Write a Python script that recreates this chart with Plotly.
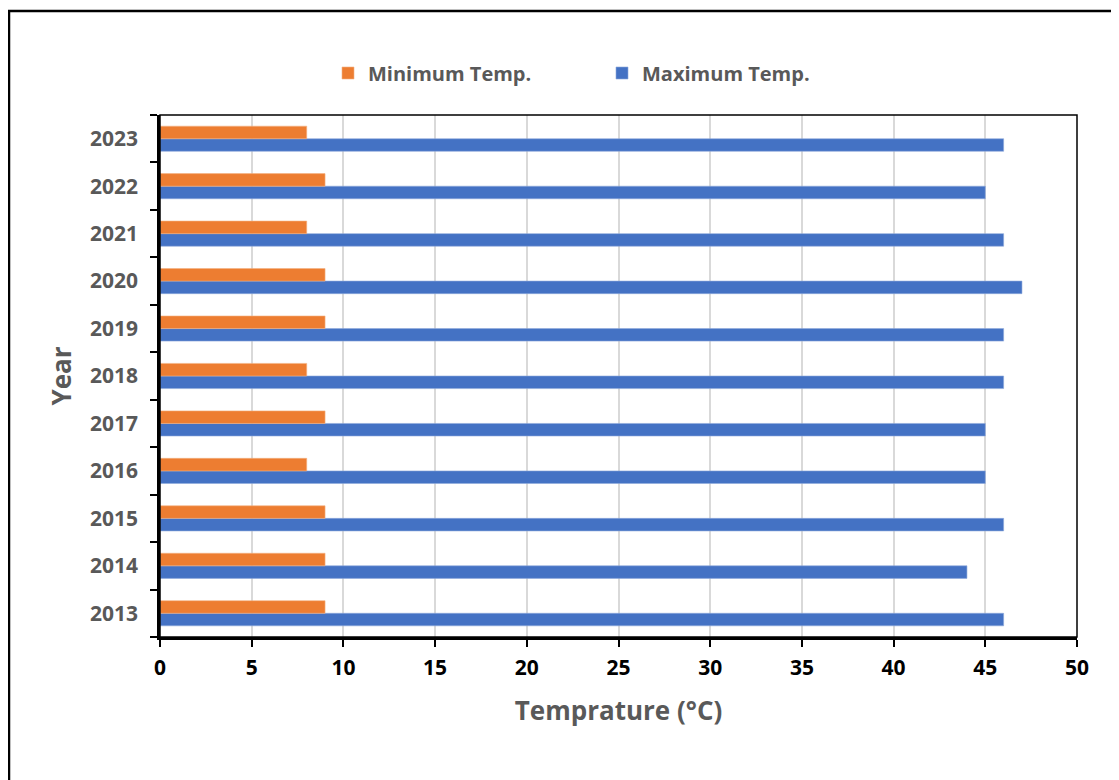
import plotly.graph_objects as go

years = ["2013", "2014", "2015", "2016", "2017", "2018", "2019", "2020", "2021", "2022", "2023"]
min_temp = [9, 9, 9, 8, 9, 8, 9, 9, 8, 9, 8]
max_temp = [46, 44, 46, 45, 45, 46, 46, 47, 46, 45, 46]
x_ticks = [0, 5, 10, 15, 20, 25, 30, 35, 40, 45, 50]

FONT = "Open Sans"
GRAY = "#595959"

fig = go.Figure()
fig.add_trace(go.Bar(y=years, x=max_temp, orientation="h", name="Maximum Temp.",
                     marker=dict(color="#4472C4", line=dict(color="#8FAADC", width=0.6))))
fig.add_trace(go.Bar(y=years, x=min_temp, orientation="h", name="Minimum Temp.",
                     marker=dict(color="#ED7D31", line=dict(color="#F4B183", width=0.6))))

# page has an 8px body margin; figure sized to fit the 1119x780 viewport
OFF = 8
W, H = 1119 - OFF, 780 - OFF
L, R, T, B = 160 - OFF, 42, 115 - OFF, 143
pw, ph = W - L - R, H - T - B

def px2x(px):  # page pixel -> paper x
    return (px - OFF - L) / pw

def py2y(py):  # page pixel -> paper y
    return (H - B - (py - OFF)) / ph

fig.update_layout(
    width=W, height=H,
    margin=dict(l=L, r=R, t=T, b=B, pad=0),
    paper_bgcolor="white", plot_bgcolor="white",
    barmode="group", bargap=0.47, bargroupgap=0,
    font=dict(family=FONT, color=GRAY),
    showlegend=True,
    legend=dict(orientation="h", traceorder="reversed",
                x=px2x(328), xanchor="left", y=py2y(73), yanchor="middle",
                font=dict(family=FONT, size=20, color=GRAY, weight="bold"),
                entrywidth=229, entrywidthmode="pixels",
                bgcolor="rgba(0,0,0,0)"),
    xaxis=dict(range=[0, 50], tickvals=x_ticks, ticktext=[str(v) for v in x_ticks],
               showgrid=True, gridcolor="#D9D9D9", gridwidth=1.5,
               showline=True, linecolor="black", linewidth=2.5,
               ticks="outside", ticklen=7, tickwidth=2, tickcolor="black",
               ticklabelstandoff=3,
               tickfont=dict(family=FONT, size=21, color="black", weight="bold"),
               title=dict(text="Temprature (°C)", standoff=22,
                          font=dict(family=FONT, size=26, color=GRAY, weight="bold")),
               zeroline=False, fixedrange=True),
    yaxis=dict(type="category", categoryorder="array", categoryarray=years,
               showgrid=False, showline=True, linecolor="black", linewidth=2.5,
               ticks="outside", tickson="boundaries", ticklen=7, tickwidth=2, tickcolor="black",
               tickfont=dict(family=FONT, size=21, color=GRAY, weight="bold"),
               ticklabelstandoff=15,
               title=dict(text="Year", standoff=11,
                          font=dict(family=FONT, size=26, color=GRAY, weight="bold")),
               zeroline=False, fixedrange=True),
)

# plot frame (top/right thin lines)
fig.add_shape(type="rect", xref="paper", yref="paper", x0=0, x1=1, y0=0, y1=1,
              line=dict(color="black", width=1.5), fillcolor="rgba(0,0,0,0)", layer="above")
# outer chart border
fig.add_shape(type="rect", xref="paper", yref="paper",
              x0=px2x(9), x1=px2x(1140), y0=py2y(810), y1=py2y(11),
              line=dict(color="black", width=2.5), fillcolor="rgba(0,0,0,0)", layer="above")

fig.write_html("out.html")
